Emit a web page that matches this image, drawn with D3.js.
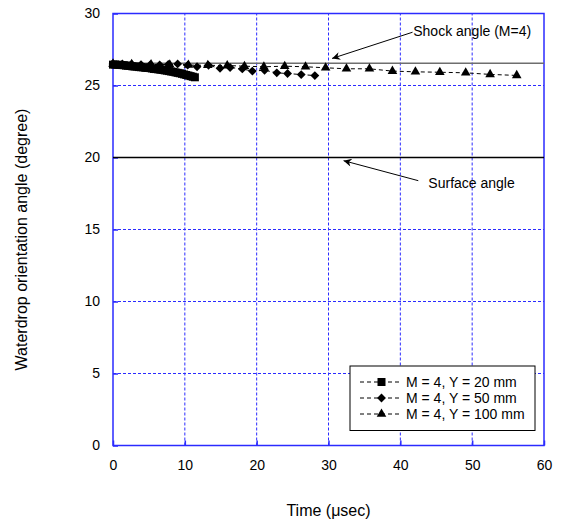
<!DOCTYPE html>
<html lang="en">
  <meta charset="utf-8">
  <style>
    body { margin: 0; background: #fff; }
    svg { display: block; font-family: Arial, "Liberation Sans", sans-serif; }
  </style>
  <body>
    <svg width="566" height="522"></svg>

    <script src="https://d3js.org/d3.v7.min.js"></script>
    <script>
    // data
    let xTicks = [0, 10, 20, 30, 40, 50, 60]
    let yTicks = [0, 5, 10, 15, 20, 25, 30]
    let seriesNames = ['M = 4, Y = 20 mm', 'M = 4, Y = 50 mm', 'M = 4, Y = 100 mm']

    let tY20 = [0,0.3,0.6,0.9,1.2,1.5,1.8,2.1,2.4,2.7,3.0,3.3,3.6,3.9,4.2,4.5,4.8,5.1,5.4,5.7,6.0,6.3,6.6,6.9,7.2,7.5,7.8,8.1,8.4,8.7,9.0,9.3,9.6,9.9,10.2,10.5,10.8,11.1,11.4]
    let vY20 = [26.45,26.46,26.44,26.43,26.42,26.41,26.38,26.37,26.36,26.33,26.32,26.31,26.28,26.27,26.26,26.23,26.22,26.21,26.18,26.15,26.14,26.12,26.10,26.08,26.05,26.03,26.00,25.97,25.95,25.91,25.88,25.85,25.81,25.77,25.73,25.69,25.65,25.61,25.57]

    let tY50 = [0,1.3,2.6,3.9,5.2,6.5,7.7,9.0,10.4,11.7,13.3,14.9,16.3,18.0,19.4,21.1,22.8,24.3,26.2,28.1]
    let vY50 = [26.5,26.5,26.48,26.45,26.45,26.42,26.46,26.5,26.41,26.3,26.4,26.2,26.25,26.15,26.0,26.06,25.88,25.83,25.76,25.69]

    let tY100 = [0,2.6,5.3,7.9,10.5,13.2,15.9,18.3,21.0,23.9,26.8,29.6,32.5,35.7,38.9,42.1,45.5,49.1,52.5,56.2]
    let vY100 = [26.5,26.48,26.46,26.44,26.42,26.4,26.39,26.34,26.3,26.34,26.3,26.23,26.16,26.16,26.0,25.95,25.92,25.88,25.77,25.7]

    let shockAngle = 26.55
    let surfaceAngle = 20

    let margin = {top: 13.5, right: 22, bottom: 76.5, left: 113}
    let width = 566, height = 522

    let x = d3.scaleLinear().domain([0, 60]).range([margin.left, width - margin.right])
    let y = d3.scaleLinear().domain([0, 30]).range([height - margin.bottom, margin.top])

    let svg = d3.select('svg')
    let blue = '#2b2bff'

    svg.append('defs').append('marker')
       .attr('id', 'arrow')
       .attr('viewBox', '0 0 10 10')
       .attr('refX', 10).attr('refY', 5)
       .attr('markerWidth', 11).attr('markerHeight', 8)
       .attr('markerUnits', 'userSpaceOnUse')
       .attr('orient', 'auto')
       .append('path')
       .attr('d', 'M0,0 L10,5 L0,10 L3,5 Z')
       .attr('fill', '#000')

    // grid
    let grid = svg.append('g')
    grid.selectAll('.gx').data(xTicks.slice(1, -1)).enter()
       .append('line')
       .attr('x1', d => x(d)).attr('x2', d => x(d))
       .attr('y1', y(0)).attr('y2', y(30))
       .attr('stroke', blue).attr('stroke-width', 1)
       .attr('stroke-dasharray', '3,2')
    grid.selectAll('.gy').data(yTicks.slice(1, -1)).enter()
       .append('line')
       .attr('y1', d => y(d)).attr('y2', d => y(d))
       .attr('x1', x(0)).attr('x2', x(60))
       .attr('stroke', blue).attr('stroke-width', 1)
       .attr('stroke-dasharray', '3,2')

    // axes (inward ticks)
    let xAxis = d3.axisBottom(x).tickValues(xTicks).tickSize(-5).tickPadding(15)
    let yAxis = d3.axisLeft(y).tickValues(yTicks).tickSize(-5).tickPadding(13)
    let gx = svg.append('g').attr('transform', `translate(0,${y(0)})`).call(xAxis)
    let gy = svg.append('g').attr('transform', `translate(${x(0)},0)`).call(yAxis)
    for (let g of [gx, gy]) {
      g.select('.domain').remove()
      g.selectAll('line').attr('stroke', blue).attr('stroke-width', 1.5)
      g.selectAll('text').attr('font-size', '14px').attr('fill', '#000')
        .attr('font-family', 'Arial, "Liberation Sans", sans-serif')
    }

    // frame
    svg.append('rect')
       .attr('x', x(0)).attr('y', y(30))
       .attr('width', x(60) - x(0)).attr('height', y(0) - y(30))
       .attr('fill', 'none').attr('stroke', blue).attr('stroke-width', 1.5)

    // reference lines
    svg.append('line')
       .attr('x1', x(0)).attr('x2', x(60))
       .attr('y1', y(shockAngle)).attr('y2', y(shockAngle))
       .attr('stroke', '#6e6e6e').attr('stroke-width', 1.6)
    svg.append('line')
       .attr('x1', x(0)).attr('x2', x(60))
       .attr('y1', y(surfaceAngle)).attr('y2', y(surfaceAngle))
       .attr('stroke', '#000').attr('stroke-width', 1.3)

    // series
    let series = [
      {t: tY20, v: vY20, sym: d3.symbolSquare, size: 64},
      {t: tY50, v: vY50, sym: d3.symbolDiamond2, size: 50},
      {t: tY100, v: vY100, sym: d3.symbolTriangle, size: 40}
    ]
    let line = d3.line().x(d => x(d[0])).y(d => y(d[1]))
    series.forEach(s => {
      let pts = s.t.map((t, i) => [t, s.v[i]])
      svg.append('path')
         .attr('d', line(pts))
         .attr('fill', 'none').attr('stroke', '#000')
         .attr('stroke-width', 1).attr('stroke-dasharray', '4,3')
      svg.append('g').selectAll('path')
         .data(pts).enter()
         .append('path')
         .attr('transform', d => `translate(${x(d[0])},${y(d[1])})`)
         .attr('d', d3.symbol().type(s.sym).size(s.size))
         .attr('fill', '#000')
    })

    // annotations
    svg.append('line')
       .attr('x1', x(41.7)).attr('y1', y(28.7))
       .attr('x2', x(30.5)).attr('y2', y(26.88))
       .attr('stroke', '#000').attr('stroke-width', 1)
       .attr('marker-end', 'url(#arrow)')
    svg.append('text')
       .attr('x', x(41.8)).attr('y', y(28.78)).attr('dy', '0.35em')
       .attr('font-size', '14px').text('Shock angle (M=4)')

    svg.append('line')
       .attr('x1', x(42.5)).attr('y1', y(18.39))
       .attr('x2', x(32.1)).attr('y2', y(19.78))
       .attr('stroke', '#000').attr('stroke-width', 1)
       .attr('marker-end', 'url(#arrow)')
    svg.append('text')
       .attr('x', x(43.9)).attr('y', y(18.25)).attr('dy', '0.35em')
       .attr('font-size', '14px').text('Surface angle')

    // legend
    let lg = svg.append('g').attr('transform', 'translate(350,366)')
    lg.append('rect')
       .attr('width', 185).attr('height', 64.5)
       .attr('fill', '#fff').attr('stroke', '#000').attr('stroke-width', 1)
    seriesNames.forEach((name, i) => {
      let ry = 16 + i * 16
      lg.append('line')
         .attr('x1', 10).attr('x2', 52).attr('y1', ry).attr('y2', ry)
         .attr('stroke', '#000').attr('stroke-dasharray', '4,3')
      lg.append('path')
         .attr('transform', `translate(31.5,${ry})`)
         .attr('d', d3.symbol().type(series[i].sym).size(series[i].size))
         .attr('fill', '#000')
      lg.append('text')
         .attr('x', 56).attr('y', ry).attr('dy', '0.35em')
         .attr('font-size', '14px').text(name)
    })

    // axis titles
    svg.append('text')
       .attr('x', (x(0) + x(60)) / 2).attr('y', 516)
       .attr('text-anchor', 'middle').attr('font-size', '16px')
       .text('Time (\u03bcsec)')
    svg.append('text')
       .attr('transform', `translate(27,${(y(0) + y(30)) / 2 + 10}) rotate(-90)`)
       .attr('text-anchor', 'middle').attr('font-size', '16px')
       .text('Waterdrop orientation angle (degree)')
    </script>
</body>
</html>
